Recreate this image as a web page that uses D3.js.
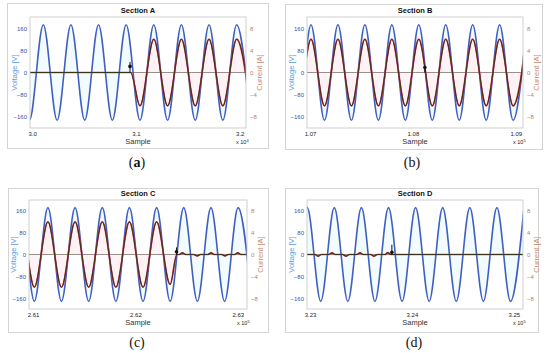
<!DOCTYPE html>
<html>
<head>
<meta charset="utf-8">
<script src="https://cdn.jsdelivr.net/npm/d3@7"></script>
<style>
  body { margin: 0; background: #fff; }
  svg { display: block; font-family: "Liberation Sans", Arial, sans-serif; }
</style>
</head>
<body>
<script>
// ---- data ----
const titles = ["Section A", "Section B", "Section C", "Section D"];
const captions = ["(a)", "(b)", "(c)", "(d)"];
const sampleDomains = [[29980, 32060], [106970, 109070], [260960, 263090], [322970, 325090]];
const sampleTicks = [[30000, 31000, 32000], [107000, 108000, 109000], [261000, 262000, 263000], [323000, 324000, 325000]];
const sampleTickLabels = [["3.0", "3.1", "3.2"], ["1.07", "1.08", "1.09"], ["2.61", "2.62", "2.63"], ["3.23", "3.24", "3.25"]];
const sampleExponents = ["4", "5", "5", "5"];
const voltageTicks = [-160, -80, 0, 80, 160];
const currentTicks = [-8, -4, 0, 4, 8];

// voltage peaks / troughs [sample, V]
const voltageA = [[29842,172],[29975,-172],[30108,172],[30241,-172],[30374,172],[30507,-172],[30640,172],[30773,-172],[30906,172],[31039,-172],[31172,172],[31305,-172],[31438,172],[31571,-172],[31704,172],[31837,-172],[31970,172],[32103,-172]];
const voltageB = [[106747,172],[106878,-172],[107009,172],[107140,-172],[107271,172],[107402,-172],[107533,172],[107664,-172],[107795,172],[107926,-172],[108057,172],[108188,-172],[108319,172],[108450,-172],[108581,172],[108712,-172],[108843,172],[108974,-172],[109105,172]];
const voltageC = [[260746,-172],[260879,172],[261012,-172],[261145,172],[261277,-172],[261410,172],[261543,-172],[261676,172],[261809,-172],[261941,172],[262074,-172],[262207,172],[262339,-172],[262472,172],[262605,-172],[262738,172],[262871,-172],[263003,172],[263136,-172]];
const voltageD = [[322839,-172],[322972,172],[323105,-172],[323238,172],[323371,-172],[323504,172],[323637,-172],[323770,172],[323903,-172],[324036,172],[324169,-172],[324302,172],[324435,-172],[324568,172],[324701,-172],[324834,172],[324967,-172],[325100,172]];

// current key points [sample, A]
const currentA = [[29900,0],[30950,0],[31039,-6],[31172,6],[31305,-6],[31438,6],[31571,-6],[31704,6],[31837,-6],[31970,6],[32103,-6]];
const currentB = [[106747,6],[106878,-6],[107009,6],[107140,-6],[107271,6],[107402,-6],[107533,6],[107664,-6],[107795,6],[107926,-6],[108057,6],[108188,-6],[108319,6],[108450,-6],[108581,6],[108712,-6],[108843,6],[108974,-6],[109105,6]];
const currentC = [[260746,-6],[260879,6],[261012,-6],[261145,6],[261277,-6],[261410,6],[261543,-6],[261676,6],[261809,-6],[261941,6],[262074,-6],[262207,6],[262339,-5.5],[262405,0],[262430,0],[262459,0.3],[262490,0],[262570,0],[262604,-0.25],[262635,0],[262705,0],[262740,0.3],[262770,0],[262845,0],[262875,-0.25],[262905,0],[262970,0],[263000,0.3],[263030,0],[263136,0]];
const currentD = [[322900,0],[323050,0],[323079,-0.3],[323110,0],[323185,0],[323216,0.3],[323245,0],[323320,0],[323353,-0.3],[323385,0],[323460,0],[323490,0.3],[323520,0],[323595,0],[323627,-0.3],[323660,0],[323735,0],[323764,0.35],[323790,0],[325150,0]];

// event markers
const eventSamples = [30943, 108116, 262401, 323803];
const eventDotAmps = [1.1, 0.9, 0.5, 0.4];
const eventTopAmps = [1.9, 0.9, 1.3, 1.8];

const voltages = [voltageA, voltageB, voltageC, voltageD];
const currents = [currentA, currentB, currentC, currentD];

// ---- layout ----
const frames = [
  {x: 7, y: 3, w: 261, h: 145},
  {x: 285, y: 4, w: 257, h: 145},
  {x: 8, y: 188, w: 260, h: 144},
  {x: 285, y: 188, w: 253, h: 144}
];
const plots = [
  {x0: 30, x1: 246, y0: 17, y1: 128},
  {x0: 307, x1: 523, y0: 17, y1: 128},
  {x0: 29, x1: 247, y0: 200, y1: 309},
  {x0: 307, x1: 523, y0: 200, y1: 309}
];
const captionPos = [[137, 167], [412, 167], [137, 347], [414, 347]];

const svg = d3.select("body").append("svg").attr("width", 550).attr("height", 353);

for (let p = 0; p < 4; p++) {
  let f = frames[p], r = plots[p];

  svg.append("rect")
    .attr("x", f.x + 0.5).attr("y", f.y + 0.5).attr("width", f.w).attr("height", f.h)
    .attr("fill", "#fff").attr("stroke", "#d4d4d4");

  let x = d3.scaleLinear().domain(sampleDomains[p]).range([r.x0, r.x1]);
  let yV = d3.scaleLinear().domain([-200, 200]).range([r.y1, r.y0]);
  let yI = d3.scaleLinear().domain([-10, 10]).range([r.y1, r.y0]);

  let g = svg.append("g");
  let clipId = `clip${p}`;
  g.append("clipPath").attr("id", clipId).append("rect")
    .attr("x", r.x0).attr("y", r.y0).attr("width", r.x1 - r.x0).attr("height", r.y1 - r.y0);

  let inner = g.append("g").attr("clip-path", `url(#${clipId})`);

  let vArea = d3.area().x(d => x(d[0])).y0(yV(0)).y1(d => yV(d[1])).curve(d3.curveMonotoneX);
  let iArea = d3.area().x(d => x(d[0])).y0(yI(0)).y1(d => yI(d[1])).curve(d3.curveMonotoneX);
  let vLine = d3.line().x(d => x(d[0])).y(d => yV(d[1])).curve(d3.curveMonotoneX);
  let iLine = d3.line().x(d => x(d[0])).y(d => yI(d[1])).curve(d3.curveMonotoneX);

  // faint tints under the traces
  inner.append("path").attr("d", vArea(voltages[p])).attr("fill", "#f2fbfd");
  inner.append("path").attr("d", iArea(currents[p])).attr("fill", "#fdf3f6");

  // zero line
  inner.append("line")
    .attr("x1", r.x0).attr("x2", r.x1).attr("y1", yI(0)).attr("y2", yI(0))
    .attr("stroke", "#9c8f88").attr("stroke-width", 1);

  inner.append("path").attr("d", vLine(voltages[p]))
    .attr("fill", "none").attr("stroke", "#3f5fc2").attr("stroke-width", 1.6);
  inner.append("path").attr("d", iLine(currents[p]))
    .attr("fill", "none").attr("stroke", "#e2393f").attr("stroke-width", 1.7);
  inner.append("path").attr("d", iLine(currents[p]))
    .attr("fill", "none").attr("stroke", "#3a3320").attr("stroke-width", 1.1);

  // event marker
  let ex = x(eventSamples[p]);
  inner.append("line")
    .attr("x1", ex).attr("x2", ex).attr("y1", yI(0)).attr("y2", yI(eventTopAmps[p]))
    .attr("stroke", "#111").attr("stroke-width", 1);
  inner.append("circle").attr("cx", ex).attr("cy", yI(eventDotAmps[p])).attr("r", 1.8).attr("fill", "#111");

  // axes box
  g.append("rect")
    .attr("x", r.x0).attr("y", r.y0).attr("width", r.x1 - r.x0).attr("height", r.y1 - r.y0)
    .attr("fill", "none").attr("stroke", "#c4c4c4").attr("stroke-width", 0.8);

  // axes
  let axB = g.append("g").attr("transform", `translate(0,${r.y1})`)
    .call(d3.axisBottom(x).tickValues(sampleTicks[p]).tickSize(0).tickPadding(4)
      .tickFormat((d, i) => sampleTickLabels[p][i]));
  let axL = g.append("g").attr("transform", `translate(${r.x0},0)`)
    .call(d3.axisLeft(yV).tickValues(voltageTicks).tickSize(0).tickPadding(3));
  let axR = g.append("g").attr("transform", `translate(${r.x1},0)`)
    .call(d3.axisRight(yI).tickValues(currentTicks).tickSize(0).tickPadding(4));
  [axB, axL, axR].forEach(a => {
    a.select(".domain").remove();
    a.selectAll("text").attr("font-size", 6).attr("font-family", "Liberation Sans, Arial, sans-serif");
  });
  axB.selectAll("text").attr("fill", "#222");
  axL.selectAll("text").attr("fill", "#3550b0");
  axR.selectAll("text").attr("fill", "#b4806e");

  let cx = (r.x0 + r.x1) / 2, cy = (r.y0 + r.y1) / 2;
  g.append("text").attr("x", cx).attr("y", r.y0 - 4).attr("text-anchor", "middle")
    .attr("font-size", 7.5).attr("font-weight", "bold").attr("fill", "#111").text(titles[p]);
  g.append("text").attr("x", cx).attr("y", r.y1 + 16).attr("text-anchor", "middle")
    .attr("font-size", 7.5).attr("fill", "#333").text("Sample");

  let ex10 = g.append("text").attr("x", r.x1 - 10).attr("y", r.y1 + 16)
    .attr("font-size", 5.5).attr("fill", "#222");
  ex10.append("tspan").text("x 10");
  ex10.append("tspan").attr("dy", -2.5).attr("font-size", 4).text(sampleExponents[p]);

  g.append("text").attr("transform", `translate(${r.x0 - 13},${cy}) rotate(-90)`)
    .attr("text-anchor", "middle").attr("font-size", 7.5).attr("fill", "#5b9be0").text("Voltage [V]");
  g.append("text").attr("transform", `translate(${r.x1 + 16},${cy}) rotate(-90)`)
    .attr("text-anchor", "middle").attr("font-size", 7.5).attr("fill", "#c98a72").text("Current [A]");

  let cap = svg.append("text").attr("x", captionPos[p][0]).attr("y", captionPos[p][1])
    .attr("text-anchor", "middle").attr("font-family", "Liberation Serif, Times New Roman, serif")
    .attr("font-size", 14).attr("fill", "#111");
  cap.append("tspan").text("(");
  cap.append("tspan").attr("font-weight", p === 0 ? "bold" : "normal").text(captions[p].slice(1, -1));
  cap.append("tspan").text(")");
}
</script>
</body>
</html>
